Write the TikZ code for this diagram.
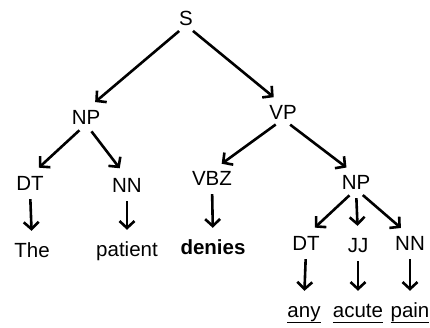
\documentclass[tikz,border=0pt]{standalone}
\usepackage{fontspec}
\setmainfont{Liberation Sans}
\usetikzlibrary{arrows.meta}

\begin{document}
\begin{tikzpicture}[x=1pt,y=-1pt,
	lab/.style={inner sep=0pt,text height=14pt,text depth=0pt,font=\fontsize{20.5}{24}\selectfont},
	arr/.style={line width=2.6pt,-{Straight Barb[length=7pt,width=15pt]},shorten <=9pt,shorten >=12pt}]
	\useasboundingbox (0,0) rectangle (430,327);
	\node[lab] (s) at (186,18) {S};
	\node[lab] (np) at (86,117) {NP};
	\node[lab] (vp) at (283,112) {VP};
	\node[lab] (dt) at (30,183) {DT};
	\node[lab] (nn) at (127,185) {NN};
	\node[lab] (vbz) at (212,178) {VBZ};
	\node[lab] (np2) at (356,182) {NP};
	\node[lab] (the) at (32,250) {The};
	\node[lab] (patient) at (127,249) {patient};
	\node[lab] (denies) at (213,247) {\bfseries denies};
	\node[lab] (dt2) at (306,243) {DT};
	\node[lab] (jj) at (358,245) {JJ};
	\node[lab] (nn2) at (410,243) {NN};
	\node[lab] (any) at (304,310) {\underline{\vphantom{p}any}};
	\node[lab] (acute) at (358,310) {\underline{\vphantom{py}acute}};
	\node[lab] (pain) at (410,310) {\underline{\vphantom{y}pain}};
	\draw[arr] (s.south) -- (np.north);
	\draw[arr] (s.south) -- (vp.north);
	\draw[arr] (np.south) -- (dt.north);
	\draw[arr] (np.south) -- (nn.north);
	\draw[arr] (vp.south) -- (vbz.north);
	\draw[arr] (vp.south) -- (np2.north);
	\draw[arr] (dt.south) -- (the.north);
	\draw[arr] (nn.south) -- (patient.north);
	\draw[arr] (vbz.south) -- (denies.north);
	\draw[arr] (np2.south) -- (dt2.north);
	\draw[arr] (np2.south) -- (jj.north);
	\draw[arr] (np2.south) -- (nn2.north);
	\draw[arr] (dt2.south) -- (any.north);
	\draw[arr] (jj.south) -- (acute.north);
	\draw[arr] (nn2.south) -- (pain.north);
\end{tikzpicture}
\end{document}
